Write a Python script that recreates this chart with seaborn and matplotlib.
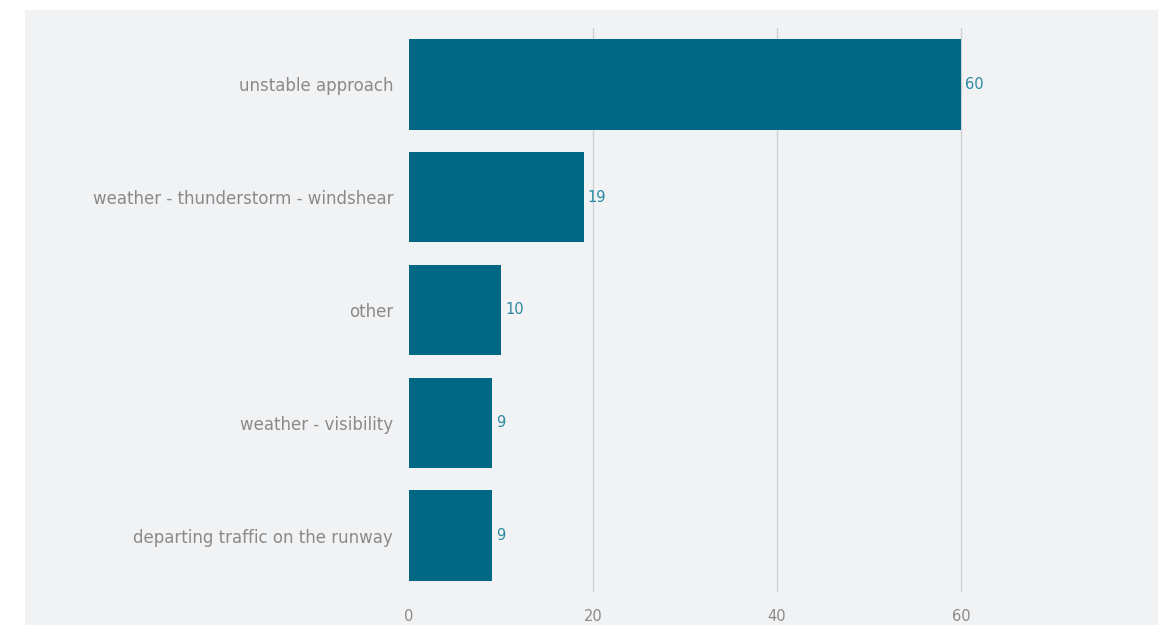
import matplotlib
matplotlib.use("Agg")
import matplotlib.pyplot as plt
from matplotlib.patches import Rectangle
import seaborn as sns
import pandas as pd

categories = [
    "unstable approach",
    "weather - thunderstorm - windshear",
    "other",
    "weather - visibility",
    "departing traffic on the runway",
]
counts = [60, 19, 10, 9, 9]
x_ticks = [0, 20, 40, 60]

BAR = "#006883"
VALUE = "#2c8aa0"
LABEL = "#8a8a8a"
PANEL = "#f1f2f4"
GRID = "#d0d1d4"

sns.set_theme(style="white")
plt.rcParams["font.family"] = ["DejaVu Sans"]

df = pd.DataFrame({"category": categories, "count": counts})

fig = plt.figure(figsize=(11.67, 6.25), dpi=100)
fig.patch.set_facecolor("white")
fig.patches.append(Rectangle((25 / 1167, 0), (1158 - 25) / 1167, 1 - 10 / 625,
                             transform=fig.transFigure, facecolor=PANEL,
                             edgecolor="none", zorder=-10))

ax = fig.add_axes([409 / 1167, 1 - 592 / 625, (1154 - 409) / 1167, (592 - 28) / 625])
ax.set_zorder(1)
ax.patch.set_alpha(0)

sns.barplot(data=df, x="count", y="category", color=BAR, saturation=1,
            width=0.8, orient="h", linewidth=0, ax=ax, zorder=3)

for i, v in enumerate(counts):
    ax.annotate(f"{v}", xy=(v, i), xytext=(3, 0), textcoords="offset points",
                va="center", ha="left", fontsize=10.5, color=VALUE)

ax.set_xlim(0, 81)
ax.set_ylim(4.5, -0.5)
ax.set_xticks(x_ticks)
ax.xaxis.grid(True, color=GRID, linewidth=1, zorder=1)
ax.yaxis.grid(False)
ax.set_axisbelow(True)
# no gridline along the zero baseline
ax.xaxis.get_gridlines()[0].set_visible(False)
for s in ax.spines.values():
    s.set_visible(False)
ax.set_xlabel("")
ax.set_ylabel("")
ax.tick_params(axis="y", length=0, pad=11.5, labelsize=12, labelcolor=LABEL)
ax.tick_params(axis="x", length=0, pad=12, labelsize=10.5, labelcolor=LABEL)

fig.savefig("out.png", dpi=100, facecolor="white")
